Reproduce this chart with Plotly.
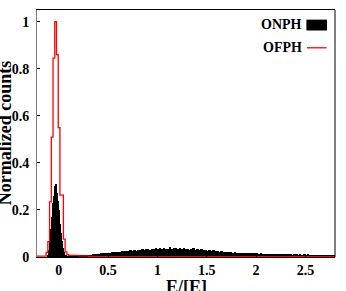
import plotly.graph_objects as go

# ---------------- data ----------------
# ONPH (black, filled histogram): fine bins around the peak, coarser bins in the tail
onph_peak_start = -0.11
onph_peak_width = 0.01
onph_peak_values = [0.01, 0.03, 0.09, 0.12, 0.17, 0.23, 0.26, 0.30, 0.31, 0.27,
                    0.24, 0.20, 0.14, 0.10, 0.07, 0.04, 0.02, 0.01, 0.005, 0.003, 0.002]

onph_tail_start = 0.10
onph_tail_width = 0.02
onph_tail_values = [
    0.002, 0.003, 0.003, 0.004, 0.004,
    0.005, 0.006, 0.007, 0.007, 0.008,
    0.010, 0.009, 0.012, 0.011, 0.013,
    0.014, 0.016, 0.015, 0.017, 0.018,
    0.019, 0.018, 0.021, 0.020, 0.022,
    0.023, 0.021, 0.025, 0.024, 0.026,
    0.025, 0.028, 0.027, 0.030, 0.026,
    0.031, 0.029, 0.034, 0.030, 0.032,
    0.033, 0.030, 0.035, 0.032, 0.038,
    0.034, 0.037, 0.033, 0.039, 0.035,
    0.036, 0.041, 0.034, 0.037, 0.040,
    0.035, 0.038, 0.033, 0.039, 0.034,
    0.036, 0.031, 0.035, 0.038, 0.030,
    0.032, 0.029, 0.034, 0.028, 0.030,
    0.027, 0.029, 0.025, 0.028, 0.024,
    0.025, 0.022, 0.024, 0.021, 0.023,
    0.021, 0.020, 0.022, 0.019, 0.020,
    0.019, 0.018, 0.017, 0.019, 0.016,
    0.017, 0.016, 0.015, 0.017, 0.015,
    0.015, 0.014, 0.015, 0.013, 0.014,
    0.014, 0.013, 0.014, 0.012, 0.013,
    0.013, 0.012, 0.012, 0.013, 0.011,
    0.012, 0.011, 0.012, 0.010, 0.011,
    0.011, 0.010, 0.011, 0.010, 0.011,
    0.010, 0.011, 0.009, 0.010, 0.009,
    0.010, 0.009, 0.010, 0.008, 0.009,
    0.009, 0.008, 0.009, 0.008, 0.007,
]

# OFPH (red, step histogram)
ofph_left_edges = [-0.22, -0.1275]
ofph_left_values = [0.004]
ofph_peak_start = -0.1275
ofph_peak_width = 0.0175
ofph_peak_values = [0.02, 0.065, 0.234, 0.51, 0.845, 1.0, 0.86, 0.55, 0.263, 0.263,
                    0.076, 0.022, 0.01]
ofph_tail_start = 0.1025
ofph_tail_width = 0.1
ofph_tail_values = [0.007, 0.005, 0.003, 0.002, 0.002, 0.002, 0.002, 0.002, 0.002,
                    0.002, 0.002, 0.002, 0.002, 0.002, 0.002, 0.002, 0.002, 0.002,
                    0.002, 0.002, 0.002, 0.002, 0.002, 0.002, 0.002, 0.002, 0.002]

x_tickvals = [0, 0.5, 1, 1.5, 2, 2.5]
x_ticktext = ["0", "0.5", "1", "1.5", "2", "2.5"]
y_tickvals = [0, 0.2, 0.4, 0.6, 0.8, 1]
y_ticktext = ["0", "0.2", "0.4", "0.6", "0.8", "1"]
series_names = ["ONPH", "OFPH"]
x_title = "E/[E]"
y_title = "Normalized counts"

# ---------------- build bins ----------------
onph_x, onph_w, onph_y = [], [], []
for i, v in enumerate(onph_peak_values):
    onph_x.append(onph_peak_start + (i + 0.5) * onph_peak_width)
    onph_w.append(onph_peak_width)
    onph_y.append(v)
for i, v in enumerate(onph_tail_values):
    onph_x.append(onph_tail_start + (i + 0.5) * onph_tail_width)
    onph_w.append(onph_tail_width)
    onph_y.append(v)

edges = list(ofph_left_edges)
vals = list(ofph_left_values)
for i, v in enumerate(ofph_peak_values):
    edges.append(ofph_peak_start + (i + 1) * ofph_peak_width)
    vals.append(v)
for i, v in enumerate(ofph_tail_values):
    edges.append(ofph_tail_start + (i + 1) * ofph_tail_width)
    vals.append(v)
ofph_x = edges
ofph_y = vals + [vals[-1]]

FONT = "Liberation Serif"

fig = go.Figure()
fig.add_trace(go.Bar(x=onph_x, y=onph_y, width=onph_w, name=series_names[0],
                     marker=dict(color="black", line=dict(width=0)),
                     showlegend=False))
fig.add_trace(go.Scatter(x=ofph_x, y=ofph_y, mode="lines", line_shape="hv",
                         name=series_names[1],
                         line=dict(color="#ff0000", width=1.3), showlegend=False))

fig.update_layout(
    width=346, height=291,
    margin=dict(l=37, r=11, t=10, b=34),
    plot_bgcolor="white", paper_bgcolor="white",
    font=dict(family=FONT, size=13, color="black", weight="bold"),
    bargap=0,
)
fig.update_xaxes(
    range=[-0.22, 2.8], tickvals=x_tickvals, ticktext=x_ticktext,
    showline=True, linecolor="black", linewidth=1, mirror=True,
    ticks="inside", ticklen=3, tickcolor="black",
    showgrid=False, zeroline=False,
    tickfont=dict(family=FONT, size=14, weight="bold"),
    automargin=False,
)
fig.update_yaxes(
    range=[0, 1.05], tickvals=y_tickvals, ticktext=y_ticktext,
    showline=True, linecolor="#808080", linewidth=1, mirror=False,
    ticks="inside", ticklen=3, tickcolor="black",
    showgrid=False, zeroline=False, ticklabelstandoff=4,
    tickfont=dict(family=FONT, size=14, weight="bold"),
    automargin=False,
)
# axis titles
fig.add_annotation(xref="paper", yref="paper", x=0.5, y=-0.072, xanchor="center", yanchor="top",
                   text=x_title, showarrow=False,
                   font=dict(family=FONT, size=18, weight="bold"))
fig.add_annotation(xref="paper", yref="paper", x=-0.108, y=0.5, xanchor="center", yanchor="middle",
                   text=y_title, showarrow=False, textangle=-90,
                   font=dict(family=FONT, size=18, weight="bold"))
# right frame line
fig.add_shape(type="line", xref="paper", yref="paper", x0=1, x1=1, y0=0, y1=1,
              line=dict(color="black", width=1))

# legend (text left of symbol, as in the reference)
fig.add_annotation(xref="paper", yref="paper", x=0.897, y=0.94, xanchor="right", yanchor="middle",
                   text=series_names[0], showarrow=False,
                   font=dict(family=FONT, size=14, weight="bold"))
fig.add_shape(type="rect", xref="paper", yref="paper", x0=0.904, x1=0.973, y0=0.917, y1=0.961,
              fillcolor="black", line=dict(width=0))
fig.add_annotation(xref="paper", yref="paper", x=0.897, y=0.85, xanchor="right", yanchor="middle",
                   text=series_names[1], showarrow=False,
                   font=dict(family=FONT, size=14, weight="bold"))
fig.add_shape(type="line", xref="paper", yref="paper", x0=0.906, x1=0.972, y0=0.847, y1=0.847,
              line=dict(color="#ff0000", width=1.3))

fig.write_html("out.html", config={"displayModeBar": False},
               post_script="document.body.style.margin='0';document.body.style.overflow='hidden';")
